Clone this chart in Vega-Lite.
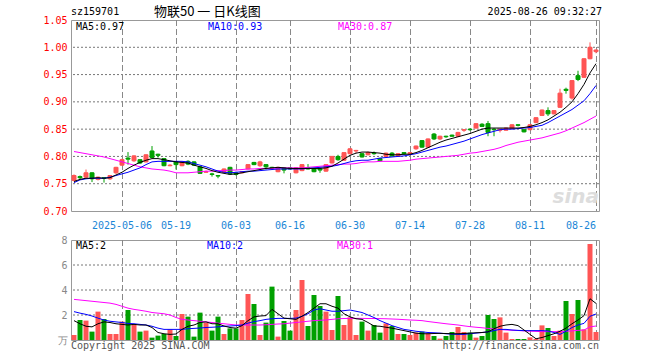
{
  "$schema": "https://vega.github.io/schema/vega-lite/v6.json",
  "padding": {"left": 42, "top": 5, "right": 0, "bottom": 0},
  "background": "white",
  "config": {
    "view": {"stroke": "#999999", "strokeWidth": 1},
    "font": "DejaVu Sans Mono",
    "axis": {"labelFont": "DejaVu Sans Mono", "labelFontSize": 10, "title": null, "ticks": false, "domain": false, "labelOverlap": false, "labelBound": false, "grid": false},
    "text": {"font": "DejaVu Sans Mono", "fontSize": 10}
  },
  "datasets": {
    "k": [
      {"d":"2025-04-21","o":0.756,"h":0.767,"l":0.754,"c":0.765,"v":0.40,"m5":0.754,"m10":0.752,"m30":0.809,"vm5":1.55,"vm10":2.27,"vm30":3.25},
      {"d":"2025-04-22","o":0.763,"h":0.765,"l":0.758,"c":0.761,"v":1.60,"m5":0.758,"m10":0.757,"m30":0.807,"vm5":1.30,"vm10":2.15,"vm30":3.20},
      {"d":"2025-04-23","o":0.762,"h":0.776,"l":0.760,"c":0.770,"v":1.55,"m5":0.760,"m10":0.759,"m30":0.805,"vm5":1.10,"vm10":2.05,"vm30":3.15},
      {"d":"2025-04-24","o":0.770,"h":0.771,"l":0.753,"c":0.759,"v":0.67,"m5":0.760,"m10":0.760,"m30":0.803,"vm5":1.05,"vm10":1.92,"vm30":3.10},
      {"d":"2025-04-25","o":0.758,"h":0.763,"l":0.756,"c":0.762,"v":2.27,"m5":0.761,"m10":0.760,"m30":0.801,"vm5":1.30,"vm10":1.75,"vm30":3.05},
      {"d":"2025-04-28","o":0.761,"h":0.762,"l":0.752,"c":0.760,"v":1.68,"m5":0.760,"m10":0.760,"m30":0.799,"vm5":1.45,"vm10":1.60,"vm30":3.00},
      {"d":"2025-04-29","o":0.759,"h":0.766,"l":0.757,"c":0.765,"v":0.48,"m5":0.761,"m10":0.762,"m30":0.796,"vm5":1.40,"vm10":1.50,"vm30":2.95},
      {"d":"2025-04-30","o":0.770,"h":0.781,"l":0.768,"c":0.780,"v":0.48,"m5":0.766,"m10":0.765,"m30":0.793,"vm5":1.30,"vm10":1.45,"vm30":2.85},
      {"d":"2025-05-06","o":0.784,"h":0.796,"l":0.783,"c":0.794,"v":1.47,"m5":0.771,"m10":0.768,"m30":0.790,"vm5":1.25,"vm10":1.40,"vm30":2.70},
      {"d":"2025-05-07","o":0.797,"h":0.808,"l":0.785,"c":0.795,"v":2.40,"m5":0.778,"m10":0.771,"m30":0.787,"vm5":1.20,"vm10":1.33,"vm30":2.55},
      {"d":"2025-05-08","o":0.792,"h":0.802,"l":0.790,"c":0.801,"v":1.20,"m5":0.784,"m10":0.775,"m30":0.784,"vm5":1.25,"vm10":1.30,"vm30":2.45},
      {"d":"2025-05-09","o":0.794,"h":0.795,"l":0.786,"c":0.788,"v":0.67,"m5":0.789,"m10":0.779,"m30":0.781,"vm5":1.20,"vm10":1.25,"vm30":2.38},
      {"d":"2025-05-12","o":0.790,"h":0.804,"l":0.789,"c":0.803,"v":0.75,"m5":0.793,"m10":0.785,"m30":0.779,"vm5":1.20,"vm10":1.20,"vm30":2.30},
      {"d":"2025-05-13","o":0.810,"h":0.819,"l":0.797,"c":0.798,"v":0.19,"m5":0.796,"m10":0.790,"m30":0.777,"vm5":1.00,"vm10":1.10,"vm30":2.20},
      {"d":"2025-05-14","o":0.804,"h":0.805,"l":0.798,"c":0.802,"v":0.35,"m5":0.796,"m10":0.791,"m30":0.776,"vm5":0.60,"vm10":0.95,"vm30":2.15},
      {"d":"2025-05-15","o":0.796,"h":0.797,"l":0.782,"c":0.783,"v":0.48,"m5":0.794,"m10":0.791,"m30":0.775,"vm5":0.50,"vm10":0.85,"vm30":2.10},
      {"d":"2025-05-16","o":0.783,"h":0.786,"l":0.782,"c":0.784,"v":0.85,"m5":0.792,"m10":0.791,"m30":0.773,"vm5":0.45,"vm10":0.85,"vm30":2.00},
      {"d":"2025-05-19","o":0.790,"h":0.791,"l":0.776,"c":0.785,"v":0.32,"m5":0.790,"m10":0.791,"m30":0.770,"vm5":0.48,"vm10":0.85,"vm30":1.80},
      {"d":"2025-05-20","o":0.783,"h":0.791,"l":0.782,"c":0.790,"v":2.08,"m5":0.789,"m10":0.791,"m30":0.770,"vm5":0.85,"vm10":0.85,"vm30":1.65},
      {"d":"2025-05-21","o":0.791,"h":0.793,"l":0.784,"c":0.786,"v":1.87,"m5":0.788,"m10":0.790,"m30":0.770,"vm5":1.10,"vm10":0.90,"vm30":1.60},
      {"d":"2025-05-22","o":0.790,"h":0.791,"l":0.783,"c":0.784,"v":0.27,"m5":0.784,"m10":0.787,"m30":0.771,"vm5":1.20,"vm10":0.93,"vm30":1.55},
      {"d":"2025-05-23","o":0.781,"h":0.782,"l":0.768,"c":0.769,"v":2.19,"m5":0.781,"m10":0.784,"m30":0.772,"vm5":1.40,"vm10":0.96,"vm30":1.50},
      {"d":"2025-05-26","o":0.771,"h":0.774,"l":0.770,"c":0.772,"v":1.39,"m5":0.778,"m10":0.781,"m30":0.773,"vm5":1.45,"vm10":1.00,"vm30":1.45},
      {"d":"2025-05-27","o":0.768,"h":0.770,"l":0.763,"c":0.767,"v":0.75,"m5":0.774,"m10":0.777,"m30":0.773,"vm5":1.30,"vm10":1.02,"vm30":1.40},
      {"d":"2025-05-28","o":0.765,"h":0.766,"l":0.760,"c":0.764,"v":1.87,"m5":0.771,"m10":0.773,"m30":0.774,"vm5":1.30,"vm10":1.05,"vm30":1.35},
      {"d":"2025-05-29","o":0.771,"h":0.778,"l":0.770,"c":0.777,"v":0.48,"m5":0.769,"m10":0.771,"m30":0.774,"vm5":1.12,"vm10":1.10,"vm30":1.30},
      {"d":"2025-05-30","o":0.780,"h":0.781,"l":0.767,"c":0.768,"v":0.93,"m5":0.767,"m10":0.770,"m30":0.775,"vm5":1.00,"vm10":1.12,"vm30":1.25},
      {"d":"2025-06-03","o":0.770,"h":0.772,"l":0.765,"c":0.767,"v":0.93,"m5":0.768,"m10":0.771,"m30":0.775,"vm5":0.95,"vm10":1.15,"vm30":1.20},
      {"d":"2025-06-04","o":0.770,"h":0.773,"l":0.769,"c":0.772,"v":1.60,"m5":0.770,"m10":0.772,"m30":0.776,"vm5":1.15,"vm10":1.20,"vm30":1.20},
      {"d":"2025-06-05","o":0.777,"h":0.786,"l":0.776,"c":0.785,"v":3.68,"m5":0.772,"m10":0.773,"m30":0.777,"vm5":1.55,"vm10":1.35,"vm30":1.20},
      {"d":"2025-06-06","o":0.789,"h":0.790,"l":0.784,"c":0.785,"v":2.88,"m5":0.774,"m10":0.773,"m30":0.777,"vm5":1.85,"vm10":1.47,"vm30":1.20},
      {"d":"2025-06-09","o":0.783,"h":0.792,"l":0.781,"c":0.790,"v":0.40,"m5":0.776,"m10":0.774,"m30":0.778,"vm5":1.92,"vm10":1.55,"vm30":1.20},
      {"d":"2025-06-10","o":0.785,"h":0.786,"l":0.776,"c":0.781,"v":1.39,"m5":0.778,"m10":0.775,"m30":0.778,"vm5":1.95,"vm10":1.65,"vm30":1.22},
      {"d":"2025-06-11","o":0.780,"h":0.781,"l":0.778,"c":0.779,"v":4.27,"m5":0.779,"m10":0.776,"m30":0.778,"vm5":2.45,"vm10":1.70,"vm30":1.25},
      {"d":"2025-06-12","o":0.772,"h":0.781,"l":0.771,"c":0.780,"v":0.27,"m5":0.780,"m10":0.777,"m30":0.779,"vm5":2.10,"vm10":1.73,"vm30":1.28},
      {"d":"2025-06-13","o":0.779,"h":0.780,"l":0.769,"c":0.775,"v":1.52,"m5":0.779,"m10":0.777,"m30":0.779,"vm5":1.75,"vm10":1.73,"vm30":1.30},
      {"d":"2025-06-16","o":0.779,"h":0.780,"l":0.776,"c":0.777,"v":0.75,"m5":0.778,"m10":0.777,"m30":0.779,"vm5":1.70,"vm10":1.73,"vm30":1.35},
      {"d":"2025-06-17","o":0.770,"h":0.780,"l":0.769,"c":0.779,"v":2.40,"m5":0.778,"m10":0.777,"m30":0.779,"vm5":1.65,"vm10":1.75,"vm30":1.40},
      {"d":"2025-06-18","o":0.774,"h":0.786,"l":0.773,"c":0.785,"v":4.80,"m5":0.778,"m10":0.777,"m30":0.779,"vm5":1.90,"vm10":1.90,"vm30":1.45},
      {"d":"2025-06-19","o":0.779,"h":0.786,"l":0.776,"c":0.777,"v":1.12,"m5":0.778,"m10":0.778,"m30":0.780,"vm5":2.20,"vm10":2.10,"vm30":1.50},
      {"d":"2025-06-20","o":0.777,"h":0.778,"l":0.771,"c":0.772,"v":3.60,"m5":0.778,"m10":0.779,"m30":0.781,"vm5":2.55,"vm10":2.40,"vm30":1.55},
      {"d":"2025-06-23","o":0.777,"h":0.778,"l":0.770,"c":0.775,"v":2.72,"m5":0.778,"m10":0.780,"m30":0.782,"vm5":2.90,"vm10":2.50,"vm30":1.58},
      {"d":"2025-06-24","o":0.773,"h":0.786,"l":0.772,"c":0.785,"v":2.27,"m5":0.779,"m10":0.781,"m30":0.783,"vm5":2.90,"vm10":2.40,"vm30":1.60},
      {"d":"2025-06-25","o":0.788,"h":0.801,"l":0.787,"c":0.800,"v":0.80,"m5":0.782,"m10":0.782,"m30":0.784,"vm5":2.70,"vm10":2.30,"vm30":1.65},
      {"d":"2025-06-26","o":0.800,"h":0.803,"l":0.792,"c":0.794,"v":3.52,"m5":0.788,"m10":0.784,"m30":0.785,"vm5":2.55,"vm10":2.30,"vm30":1.70},
      {"d":"2025-06-27","o":0.793,"h":0.808,"l":0.792,"c":0.807,"v":1.20,"m5":0.795,"m10":0.787,"m30":0.786,"vm5":2.10,"vm10":2.35,"vm30":1.72},
      {"d":"2025-06-30","o":0.805,"h":0.815,"l":0.804,"c":0.814,"v":1.81,"m5":0.802,"m10":0.790,"m30":0.786,"vm5":1.85,"vm10":2.40,"vm30":1.73},
      {"d":"2025-07-01","o":0.810,"h":0.812,"l":0.806,"c":0.811,"v":0.40,"m5":0.806,"m10":0.792,"m30":0.787,"vm5":1.70,"vm10":2.30,"vm30":1.73},
      {"d":"2025-07-02","o":0.805,"h":0.806,"l":0.798,"c":0.799,"v":1.47,"m5":0.808,"m10":0.793,"m30":0.789,"vm5":1.65,"vm10":2.20,"vm30":1.73},
      {"d":"2025-07-03","o":0.803,"h":0.809,"l":0.802,"c":0.807,"v":0.75,"m5":0.808,"m10":0.793,"m30":0.790,"vm5":1.40,"vm10":2.00,"vm30":1.72},
      {"d":"2025-07-04","o":0.806,"h":0.809,"l":0.803,"c":0.805,"v":1.20,"m5":0.807,"m10":0.795,"m30":0.790,"vm5":1.12,"vm10":1.80,"vm30":1.72},
      {"d":"2025-07-07","o":0.796,"h":0.797,"l":0.791,"c":0.792,"v":0.59,"m5":0.806,"m10":0.797,"m30":0.791,"vm5":1.10,"vm10":1.55,"vm30":1.71},
      {"d":"2025-07-08","o":0.800,"h":0.807,"l":0.799,"c":0.806,"v":1.33,"m5":0.804,"m10":0.798,"m30":0.791,"vm5":1.02,"vm10":1.35,"vm30":1.70},
      {"d":"2025-07-09","o":0.806,"h":0.808,"l":0.799,"c":0.801,"v":1.12,"m5":0.803,"m10":0.799,"m30":0.791,"vm5":0.95,"vm10":1.15,"vm30":1.68},
      {"d":"2025-07-10","o":0.800,"h":0.806,"l":0.799,"c":0.805,"v":0.48,"m5":0.803,"m10":0.800,"m30":0.791,"vm5":0.85,"vm10":1.00,"vm30":1.66},
      {"d":"2025-07-11","o":0.807,"h":0.808,"l":0.803,"c":0.805,"v":0.48,"m5":0.804,"m10":0.801,"m30":0.792,"vm5":0.75,"vm10":0.85,"vm30":1.63},
      {"d":"2025-07-14","o":0.804,"h":0.808,"l":0.802,"c":0.807,"v":0.40,"m5":0.804,"m10":0.803,"m30":0.793,"vm5":0.65,"vm10":0.78,"vm30":1.60},
      {"d":"2025-07-15","o":0.814,"h":0.820,"l":0.812,"c":0.819,"v":0.59,"m5":0.807,"m10":0.805,"m30":0.795,"vm5":0.55,"vm10":0.70,"vm30":1.58},
      {"d":"2025-07-16","o":0.829,"h":0.830,"l":0.816,"c":0.817,"v":0.67,"m5":0.811,"m10":0.808,"m30":0.796,"vm5":0.50,"vm10":0.65,"vm30":1.55},
      {"d":"2025-07-17","o":0.817,"h":0.833,"l":0.816,"c":0.832,"v":0.53,"m5":0.816,"m10":0.811,"m30":0.797,"vm5":0.50,"vm10":0.60,"vm30":1.48},
      {"d":"2025-07-18","o":0.841,"h":0.843,"l":0.830,"c":0.832,"v":0.32,"m5":0.821,"m10":0.814,"m30":0.798,"vm5":0.52,"vm10":0.58,"vm30":1.42},
      {"d":"2025-07-21","o":0.832,"h":0.838,"l":0.830,"c":0.837,"v":0.11,"m5":0.826,"m10":0.817,"m30":0.799,"vm5":0.53,"vm10":0.55,"vm30":1.36},
      {"d":"2025-07-22","o":0.837,"h":0.838,"l":0.834,"c":0.836,"v":0.32,"m5":0.830,"m10":0.819,"m30":0.800,"vm5":0.52,"vm10":0.50,"vm30":1.30},
      {"d":"2025-07-23","o":0.839,"h":0.840,"l":0.836,"c":0.837,"v":0.64,"m5":0.833,"m10":0.822,"m30":0.801,"vm5":0.50,"vm10":0.47,"vm30":1.25},
      {"d":"2025-07-24","o":0.837,"h":0.845,"l":0.836,"c":0.844,"v":1.04,"m5":0.836,"m10":0.825,"m30":0.802,"vm5":0.50,"vm10":0.45,"vm30":1.20},
      {"d":"2025-07-25","o":0.848,"h":0.850,"l":0.845,"c":0.849,"v":0.64,"m5":0.839,"m10":0.828,"m30":0.804,"vm5":0.52,"vm10":0.45,"vm30":1.13},
      {"d":"2025-07-28","o":0.850,"h":0.851,"l":0.847,"c":0.849,"v":0.59,"m5":0.842,"m10":0.832,"m30":0.806,"vm5":0.55,"vm10":0.50,"vm30":1.07},
      {"d":"2025-07-29","o":0.852,"h":0.861,"l":0.851,"c":0.860,"v":0.19,"m5":0.846,"m10":0.836,"m30":0.807,"vm5":0.58,"vm10":0.55,"vm30":1.02},
      {"d":"2025-07-30","o":0.859,"h":0.861,"l":0.854,"c":0.855,"v":0.32,"m5":0.850,"m10":0.840,"m30":0.809,"vm5":0.60,"vm10":0.60,"vm30":0.98},
      {"d":"2025-07-31","o":0.860,"h":0.865,"l":0.837,"c":0.844,"v":2.00,"m5":0.852,"m10":0.843,"m30":0.811,"vm5":0.65,"vm10":0.65,"vm30":0.93},
      {"d":"2025-08-01","o":0.850,"h":0.851,"l":0.837,"c":0.849,"v":1.68,"m5":0.852,"m10":0.846,"m30":0.813,"vm5":0.90,"vm10":0.75,"vm30":0.88},
      {"d":"2025-08-04","o":0.848,"h":0.851,"l":0.844,"c":0.850,"v":1.81,"m5":0.852,"m10":0.849,"m30":0.816,"vm5":1.10,"vm10":0.85,"vm30":0.84},
      {"d":"2025-08-05","o":0.848,"h":0.853,"l":0.847,"c":0.852,"v":0.59,"m5":0.852,"m10":0.850,"m30":0.820,"vm5":1.20,"vm10":0.85,"vm30":0.80},
      {"d":"2025-08-06","o":0.851,"h":0.859,"l":0.850,"c":0.858,"v":0.08,"m5":0.852,"m10":0.850,"m30":0.823,"vm5":1.25,"vm10":0.80,"vm30":0.78},
      {"d":"2025-08-07","o":0.858,"h":0.859,"l":0.855,"c":0.857,"v":0.08,"m5":0.852,"m10":0.851,"m30":0.826,"vm5":1.15,"vm10":0.77,"vm30":0.76},
      {"d":"2025-08-08","o":0.849,"h":0.850,"l":0.844,"c":0.845,"v":0.08,"m5":0.853,"m10":0.852,"m30":0.828,"vm5":0.80,"vm10":0.75,"vm30":0.73},
      {"d":"2025-08-11","o":0.849,"h":0.859,"l":0.848,"c":0.858,"v":0.21,"m5":0.855,"m10":0.853,"m30":0.830,"vm5":0.45,"vm10":0.75,"vm30":0.71},
      {"d":"2025-08-12","o":0.862,"h":0.872,"l":0.861,"c":0.871,"v":0.08,"m5":0.858,"m10":0.855,"m30":0.832,"vm5":0.10,"vm10":0.75,"vm30":0.69},
      {"d":"2025-08-13","o":0.875,"h":0.886,"l":0.874,"c":0.885,"v":1.17,"m5":0.862,"m10":0.857,"m30":0.834,"vm5":0.20,"vm10":0.75,"vm30":0.67},
      {"d":"2025-08-14","o":0.884,"h":0.890,"l":0.874,"c":0.878,"v":0.96,"m5":0.867,"m10":0.862,"m30":0.837,"vm5":0.35,"vm10":0.72,"vm30":0.67},
      {"d":"2025-08-15","o":0.878,"h":0.885,"l":0.877,"c":0.884,"v":0.32,"m5":0.874,"m10":0.868,"m30":0.840,"vm5":0.50,"vm10":0.60,"vm30":0.67},
      {"d":"2025-08-18","o":0.890,"h":0.924,"l":0.889,"c":0.916,"v":0.75,"m5":0.881,"m10":0.874,"m30":0.843,"vm5":0.70,"vm10":0.45,"vm30":0.68},
      {"d":"2025-08-19","o":0.923,"h":0.926,"l":0.915,"c":0.921,"v":3.12,"m5":0.890,"m10":0.880,"m30":0.847,"vm5":0.95,"vm10":0.70,"vm30":0.70},
      {"d":"2025-08-20","o":0.907,"h":0.940,"l":0.904,"c":0.939,"v":2.08,"m5":0.900,"m10":0.886,"m30":0.852,"vm5":1.30,"vm10":1.00,"vm30":0.73},
      {"d":"2025-08-21","o":0.948,"h":0.957,"l":0.938,"c":0.941,"v":3.20,"m5":0.915,"m10":0.894,"m30":0.857,"vm5":1.60,"vm10":1.20,"vm30":0.77},
      {"d":"2025-08-22","o":0.945,"h":0.980,"l":0.944,"c":0.979,"v":0.85,"m5":0.932,"m10":0.902,"m30":0.862,"vm5":1.95,"vm10":1.33,"vm30":0.80},
      {"d":"2025-08-25","o":0.979,"h":1.009,"l":0.978,"c":1.000,"v":7.68,"m5":0.953,"m10":0.915,"m30":0.868,"vm5":3.30,"vm10":1.90,"vm30":1.05},
      {"d":"2025-08-26","o":0.992,"h":0.996,"l":0.989,"c":0.995,"v":0.64,"m5":0.970,"m10":0.930,"m30":0.874,"vm5":2.93,"vm10":2.08,"vm30":1.12}
    ],
    "xt": [{"t":"2025-05-06"},{"t":"2025-05-19"},{"t":"2025-06-03"},{"t":"2025-06-16"},{"t":"2025-06-30"},{"t":"2025-07-14"},{"t":"2025-07-28"},{"t":"2025-08-11"},{"t":"2025-08-26"}],
    "pt": [{"t":0.75},{"t":0.80},{"t":0.85},{"t":0.90},{"t":0.95},{"t":1.00}],
    "vt": [{"t":2},{"t":4},{"t":6}]
  },
  "spacing": 29,
  "bounds": "flush",
  "vconcat": [
    {
      "width": 528,
      "height": 191,
      "resolve": {"axis": {"x": "independent", "y": "independent"}},
      "layer": [
        {"data": {"name": "pt"}, "mark": {"type": "rule", "color": "#777777", "strokeWidth": 1, "strokeDash": [2, 2]},
         "encoding": {"y": {"field": "t", "type": "quantitative", "axis": null}}},
        {"data": {"name": "xt"}, "mark": {"type": "rule", "color": "#888888", "strokeWidth": 1, "strokeDash": [6, 3], "xOffset": 0.5},
         "encoding": {"x": {"field": "t", "type": "ordinal", "axis": null}}},
        {
          "data": {"name": "k"},
          "encoding": {
            "x": {
              "field": "d", "type": "ordinal",
              "scale": {"domain": ["2025-04-21","2025-04-22","2025-04-23","2025-04-24","2025-04-25","2025-04-28","2025-04-29","2025-04-30","2025-05-06","2025-05-07","2025-05-08","2025-05-09","2025-05-12","2025-05-13","2025-05-14","2025-05-15","2025-05-16","2025-05-19","2025-05-20","2025-05-21","2025-05-22","2025-05-23","2025-05-26","2025-05-27","2025-05-28","2025-05-29","2025-05-30","2025-06-03","2025-06-04","2025-06-05","2025-06-06","2025-06-09","2025-06-10","2025-06-11","2025-06-12","2025-06-13","2025-06-16","2025-06-17","2025-06-18","2025-06-19","2025-06-20","2025-06-23","2025-06-24","2025-06-25","2025-06-26","2025-06-27","2025-06-30","2025-07-01","2025-07-02","2025-07-03","2025-07-04","2025-07-07","2025-07-08","2025-07-09","2025-07-10","2025-07-11","2025-07-14","2025-07-15","2025-07-16","2025-07-17","2025-07-18","2025-07-21","2025-07-22","2025-07-23","2025-07-24","2025-07-25","2025-07-28","2025-07-29","2025-07-30","2025-07-31","2025-08-01","2025-08-04","2025-08-05","2025-08-06","2025-08-07","2025-08-08","2025-08-11","2025-08-12","2025-08-13","2025-08-14","2025-08-15","2025-08-18","2025-08-19","2025-08-20","2025-08-21","2025-08-22","2025-08-25","2025-08-26"], "paddingInner": 0, "paddingOuter": 0},
              "axis": {
                "values": ["2025-05-06","2025-05-19","2025-06-03","2025-06-16","2025-06-30","2025-07-14","2025-07-28","2025-08-11","2025-08-26"],
                "labelExpr": "datum.value == '2025-05-06' ? datum.value : slice(datum.value, 5)",
                "labelAngle": 0,
                "labelColor": "#1a86d6",
                "labelPadding": 9,
                "labelOverlap": false,
                "labelAlign": {"condition": {"test": "datum.value == '2025-08-26'", "value": "right"}, "value": "center"},
                "bandPosition": 0.5,
                "tickCount": 20,
                "grid": false
              }
            }
          },
          "layer": [
            {
              "mark": {"type": "rule", "strokeWidth": 1},
              "encoding": {
                "y": {"field": "l", "type": "quantitative", "scale": {"domain": [0.7, 1.05], "nice": false, "zero": false},
                      "axis": {"values": [0.70, 0.75, 0.80, 0.85, 0.90, 0.95, 1.00, 1.05], "tickCount": 20, "format": ".2f", "labelColor": "#ff0000", "labelPadding": 4, "labelOverlap": false, "grid": false}},
                "y2": {"field": "h"},
                "color": {"condition": {"test": "datum.c >= datum.o", "value": "#ff5555"}, "value": "#00a000"}
              }
            },
            {
              "mark": {"type": "bar", "width": 4, "strokeWidth": 1},
              "encoding": {
                "y": {"field": "o", "type": "quantitative"},
                "y2": {"field": "c"},
                "color": {"condition": {"test": "datum.c >= datum.o", "value": "#ff5555"}, "value": "#00a000"},
                "stroke": {"condition": {"test": "datum.c >= datum.o", "value": "#ff5555"}, "value": "#00a000"}
              }
            },
            {"mark": {"type": "line", "color": "#ff00ff", "strokeWidth": 1}, "encoding": {"y": {"field": "m30", "type": "quantitative"}}},
            {"mark": {"type": "line", "color": "#0000ff", "strokeWidth": 1}, "encoding": {"y": {"field": "m10", "type": "quantitative"}}},
            {"mark": {"type": "line", "color": "#000000", "strokeWidth": 1}, "encoding": {"y": {"field": "m5", "type": "quantitative"}}}
          ]
        },
        {"data": {"values": [{}]}, "mark": {"type": "text", "text": "sina", "fontSize": 20, "fontStyle": "italic", "fontWeight": "bold", "font": "DejaVu Sans", "color": "#dddddd", "align": "right", "baseline": "middle", "dx": 3},
         "encoding": {"x": {"datum": "2025-08-26", "type": "ordinal", "axis": null}, "y": {"datum": 0.725, "type": "quantitative", "axis": null}}},
        {"data": {"values": [{}]}, "mark": {"type": "text", "text": "MA5:0.97", "color": "#000000", "align": "left", "baseline": "middle", "dx": 2},
         "encoding": {"x": {"datum": "2025-04-21", "type": "ordinal", "axis": null}, "y": {"datum": 1.037, "type": "quantitative", "axis": null}}},
        {"data": {"values": [{}]}, "mark": {"type": "text", "text": "MA10:0.93", "color": "#0000ff", "align": "left", "baseline": "middle", "dx": 2},
         "encoding": {"x": {"datum": "2025-05-26", "type": "ordinal", "axis": null}, "y": {"datum": 1.037, "type": "quantitative", "axis": null}}},
        {"data": {"values": [{}]}, "mark": {"type": "text", "text": "MA30:0.87", "color": "#ff00ff", "align": "left", "baseline": "middle", "dx": 0},
         "encoding": {"x": {"datum": "2025-06-26", "type": "ordinal", "axis": null}, "y": {"datum": 1.037, "type": "quantitative", "axis": null}}},
        {"data": {"values": [{}]}, "mark": {"type": "text", "text": "sz159701", "color": "#000000", "align": "left", "baseline": "middle", "dx": -3},
         "encoding": {"x": {"datum": "2025-04-21", "type": "ordinal", "axis": null}, "y": {"datum": 1.0646, "type": "quantitative", "axis": null}}},
        {"data": {"values": [{}]}, "mark": {"type": "text", "text": "物联50 一 日K线图", "font": "Noto Sans CJK SC", "fontSize": 13, "color": "#000000", "align": "left", "baseline": "middle", "dx": 2},
         "encoding": {"x": {"datum": "2025-05-13", "type": "ordinal", "axis": null}, "y": {"datum": 1.0646, "type": "quantitative", "axis": null}}},
        {"data": {"values": [{}]}, "mark": {"type": "text", "text": "2025-08-26 09:32:27", "color": "#000000", "align": "right", "baseline": "middle", "dx": 6},
         "encoding": {"x": {"datum": "2025-08-26", "type": "ordinal", "axis": null}, "y": {"datum": 1.0646, "type": "quantitative", "axis": null}}}
      ]
    },
    {
      "width": 528,
      "height": 100,
      "resolve": {"axis": {"x": "independent", "y": "independent"}},
      "layer": [
        {"data": {"name": "vt"}, "mark": {"type": "rule", "color": "#777777", "strokeWidth": 1, "strokeDash": [2, 2]},
         "encoding": {"y": {"field": "t", "type": "quantitative", "axis": null}}},
        {"data": {"name": "xt"}, "mark": {"type": "rule", "color": "#888888", "strokeWidth": 1, "strokeDash": [6, 3], "xOffset": 0.5},
         "encoding": {"x": {"field": "t", "type": "ordinal", "axis": null}}},
        {
          "data": {"name": "k"},
          "encoding": {
            "x": {
              "field": "d", "type": "ordinal",
              "scale": {"domain": ["2025-04-21","2025-04-22","2025-04-23","2025-04-24","2025-04-25","2025-04-28","2025-04-29","2025-04-30","2025-05-06","2025-05-07","2025-05-08","2025-05-09","2025-05-12","2025-05-13","2025-05-14","2025-05-15","2025-05-16","2025-05-19","2025-05-20","2025-05-21","2025-05-22","2025-05-23","2025-05-26","2025-05-27","2025-05-28","2025-05-29","2025-05-30","2025-06-03","2025-06-04","2025-06-05","2025-06-06","2025-06-09","2025-06-10","2025-06-11","2025-06-12","2025-06-13","2025-06-16","2025-06-17","2025-06-18","2025-06-19","2025-06-20","2025-06-23","2025-06-24","2025-06-25","2025-06-26","2025-06-27","2025-06-30","2025-07-01","2025-07-02","2025-07-03","2025-07-04","2025-07-07","2025-07-08","2025-07-09","2025-07-10","2025-07-11","2025-07-14","2025-07-15","2025-07-16","2025-07-17","2025-07-18","2025-07-21","2025-07-22","2025-07-23","2025-07-24","2025-07-25","2025-07-28","2025-07-29","2025-07-30","2025-07-31","2025-08-01","2025-08-04","2025-08-05","2025-08-06","2025-08-07","2025-08-08","2025-08-11","2025-08-12","2025-08-13","2025-08-14","2025-08-15","2025-08-18","2025-08-19","2025-08-20","2025-08-21","2025-08-22","2025-08-25","2025-08-26"], "paddingInner": 0, "paddingOuter": 0},
              "axis": null
            }
          },
          "layer": [
            {
              "mark": {"type": "bar", "width": 5},
              "encoding": {
                "y": {"field": "v", "type": "quantitative", "scale": {"domain": [0, 8], "nice": false},
                      "axis": {"values": [0, 2, 4, 6, 8], "tickCount": 20, "labelExpr": "datum.value == 0 ? '万' : datum.value", "labelColor": "#888888", "labelPadding": 4, "labelOverlap": false, "grid": false}},
                "color": {"condition": {"test": "datum.c >= datum.o", "value": "#ff5555"}, "value": "#00a000"}
              }
            },
            {"mark": {"type": "line", "color": "#ff00ff", "strokeWidth": 1}, "encoding": {"y": {"field": "vm30", "type": "quantitative"}}},
            {"mark": {"type": "line", "color": "#0000ff", "strokeWidth": 1}, "encoding": {"y": {"field": "vm10", "type": "quantitative"}}},
            {"mark": {"type": "line", "color": "#000000", "strokeWidth": 1}, "encoding": {"y": {"field": "vm5", "type": "quantitative"}}}
          ]
        },
        {"data": {"values": [{}]}, "mark": {"type": "text", "text": "MA5:2", "color": "#000000", "align": "left", "baseline": "middle", "dx": 2},
         "encoding": {"x": {"datum": "2025-04-21", "type": "ordinal", "axis": null}, "y": {"datum": 7.52, "type": "quantitative", "axis": null}}},
        {"data": {"values": [{}]}, "mark": {"type": "text", "text": "MA10:2", "color": "#0000ff", "align": "left", "baseline": "middle", "dx": 1},
         "encoding": {"x": {"datum": "2025-05-26", "type": "ordinal", "axis": null}, "y": {"datum": 7.52, "type": "quantitative", "axis": null}}},
        {"data": {"values": [{}]}, "mark": {"type": "text", "text": "MA30:1", "color": "#ff00ff", "align": "left", "baseline": "middle", "dx": -1},
         "encoding": {"x": {"datum": "2025-06-26", "type": "ordinal", "axis": null}, "y": {"datum": 7.52, "type": "quantitative", "axis": null}}},
        {"data": {"values": [{}]}, "mark": {"type": "text", "text": "Copyright 2025 SINA.COM", "color": "#555555", "align": "left", "baseline": "middle", "dx": -3},
         "encoding": {"x": {"datum": "2025-04-21", "type": "ordinal", "axis": null}, "y": {"datum": -0.48, "type": "quantitative", "axis": null}}},
        {"data": {"values": [{}]}, "mark": {"type": "text", "text": "http://finance.sina.com.cn", "color": "#555555", "align": "right", "baseline": "middle", "dx": 3},
         "encoding": {"x": {"datum": "2025-08-26", "type": "ordinal", "axis": null}, "y": {"datum": -0.48, "type": "quantitative", "axis": null}}}
      ]
    }
  ]
}
